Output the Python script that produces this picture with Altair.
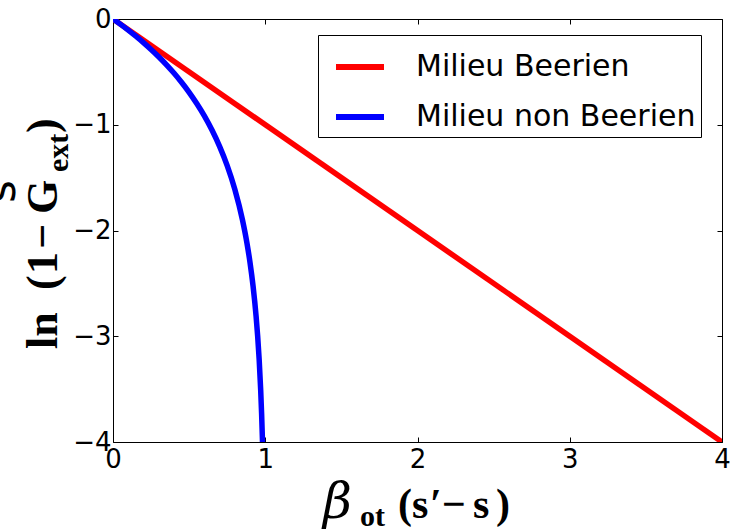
import altair as alt
import pandas as pd

# Series
series_names = ["Milieu Beerien", "Milieu non Beerien"]
series_colors = ["#ff0000", "#0000ff"]

beer_x = [0.0, 4.0]
beer_y = [0.0, -4.0]

nonbeer_x = [0.0, 0.05, 0.1, 0.15, 0.2, 0.25, 0.3, 0.35, 0.4, 0.45, 0.5, 0.55,
             0.6, 0.65, 0.7, 0.75, 0.8, 0.85, 0.88, 0.9, 0.92, 0.94, 0.95,
             0.96, 0.97, 0.976, 0.982]
nonbeer_y = [0.0, -0.051, -0.105, -0.163, -0.223, -0.288, -0.357, -0.431, -0.511,
             -0.598, -0.693, -0.799, -0.916, -1.05, -1.204, -1.386, -1.609,
             -1.897, -2.12, -2.303, -2.526, -2.813, -2.996, -3.219, -3.507,
             -3.73, -4.0]

x_ticks = [0, 1, 2, 3, 4]
y_ticks = [0, -1, -2, -3, -4]

beer = pd.DataFrame({"x": beer_x, "y": beer_y, "serie": series_names[0]})
nonbeer = pd.DataFrame({"x": nonbeer_x, "y": nonbeer_y, "serie": series_names[1]})
anchor = pd.DataFrame({"k": [0]})

W, H = 609, 423
TICK_FONT = "DejaVu Sans"
MATH_FONT = "Liberation Serif"

xscale = alt.Scale(domain=[0, 4], nice=False, zero=False)
yscale = alt.Scale(domain=[-4, 0], nice=False, zero=False)


def axis(orient, values, labels=True, pad=4):
    return alt.Axis(
        orient=orient, values=values, format="d", grid=False, domain=False,
        ticks=True, tickSize=5, tickColor="black", tickWidth=1, offset=-5,
        labels=labels, labelFlush=False, labelOverlap=False,
        labelFont=TICK_FONT, labelFontSize=26,
        labelColor="black", labelPadding=pad, title=None,
    )


color = alt.Color(
    "serie:N",
    scale=alt.Scale(domain=series_names, range=series_colors),
    legend=alt.Legend(
        title=None, orient="none", legendX=205, legendY=16,
        symbolType="stroke", symbolStrokeWidth=6, symbolSize=2304,
        symbolOffset=10, labelFont=TICK_FONT, labelFontSize=30,
        labelColor="black", labelOffset=29, labelLimit=600,
        strokeColor="black", fillColor="white", padding=5, rowPadding=8,
    ),
)

red = alt.Chart(beer).mark_line(strokeWidth=5.5, clip=True).encode(
    x=alt.X("x:Q", scale=xscale, axis=axis("bottom", x_ticks, pad=4)),
    y=alt.Y("y:Q", scale=yscale, axis=axis("left", y_ticks, pad=2)),
    color=color,
)

blue = alt.Chart(nonbeer).mark_line(
    strokeWidth=5.5, clip=True, interpolate="monotone", strokeJoin="round"
).encode(
    x=alt.X("x:Q", scale=xscale, axis=axis("top", x_ticks, labels=False)),
    y=alt.Y("y:Q", scale=yscale, axis=axis("right", y_ticks, labels=False)),
    color=color,
)


def piece(text, x, y, size, angle=0, font=MATH_FONT, weight="bold", style="normal"):
    return alt.Chart(anchor).mark_text(
        text=text, font=font, fontSize=size, fontWeight=weight,
        fontStyle=style, angle=angle, align="left", baseline="alphabetic",
        color="black",
    ).encode(x=alt.value(x), y=alt.value(y))


# y title: ln (1 - G_ext), written bottom to top
y_title = [
    piece("s", -98, 184, 44, angle=270, font=TICK_FONT, weight="normal"),
    piece("ln", -56, 330, 44, angle=270),
    piece("(", -56, 271, 44, angle=270),
    piece("1", -56, 255, 44, angle=270),
    piece("\u2212", -56, 230, 44, angle=270),
    piece("G", -56, 195, 44, angle=270),
    piece("ext", -45, 153, 30, angle=270),
    piece(")", -56, 114, 44, angle=270),
]

# x title: beta_ot (s' - s)
x_title = [
    piece("\u03b2", 210, 499, 50, font="DejaVu Serif", weight="normal", style="italic"),
    piece("ot", 247, 507, 30),
    piece("(", 285, 499, 42),
    piece("s", 299, 499, 42),
    piece("\u2032", 317, 499, 42),
    piece("\u2212", 329, 499, 42),
    piece("s", 360, 499, 42),
    piece(")", 383, 499, 42),
]

chart = alt.layer(red, blue, *y_title, *x_title).resolve_axis(
    x="independent", y="independent"
).properties(
    width=W, height=H,
    autosize=alt.AutoSizeParams(type="none"),
    padding={"left": 113, "top": 19, "right": 11, "bottom": 89},
    background="white",
).configure_view(stroke="black", strokeWidth=1)

chart.save("out.html", embed_options={"renderer": "svg", "actions": False})
